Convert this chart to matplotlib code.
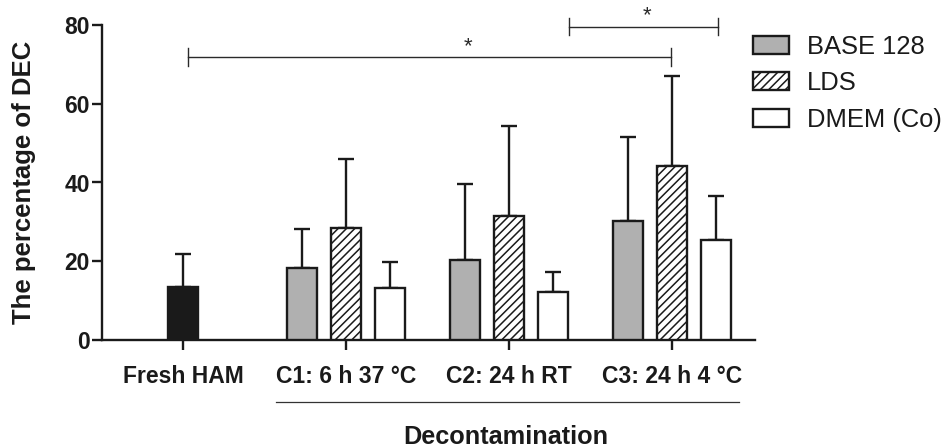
import numpy as np
import matplotlib
matplotlib.use("Agg")
import matplotlib.pyplot as plt
from matplotlib.patches import Patch
import matplotlib.transforms as mtransforms

plt.rcParams['font.family'] = ['Liberation Sans', 'DejaVu Sans']
plt.rcParams['hatch.linewidth'] = 1.1

# ---- data ----
categories = ["Fresh HAM", "C1: 6 h 37 °C", "C2: 24 h RT", "C3: 24 h 4 °C"]
series_names = ["BASE 128", "LDS", "DMEM (Co)"]
fresh_mean = 13.4
fresh_sd = 8.4
base_mean = [18.4, 20.3, 30.3]
base_sd = [9.8, 19.2, 21.3]
lds_mean = [28.5, 31.6, 44.3]
lds_sd = [17.4, 22.7, 22.7]
dmem_mean = [13.3, 12.2, 25.3]
dmem_sd = [6.5, 5.1, 11.3]
y_ticks = [0, 20, 40, 60, 80]
y_label = "The percentage of DEC"
x_group_label = "Decontamination"

# ---- figure ----
fig = plt.figure(figsize=(9.45, 4.48), dpi=100)
ax = fig.add_axes([101.7/945, 108/448, (755-101.7)/945, 315/448])

ink = '#1a1a1a'
lw = 1.7
w = 0.185
off = 0.27
gx = np.arange(1, 4)

ax.bar([0], [fresh_mean], w, color=ink, edgecolor=ink, linewidth=lw, zorder=3)
ax.bar(gx - off, base_mean, w, color='#b0b0b0', edgecolor=ink, linewidth=lw, zorder=3)
ax.bar(gx, lds_mean, w, color='white', edgecolor=ink, linewidth=lw, hatch='////', zorder=3)
ax.bar(gx + off, dmem_mean, w, color='white', edgecolor=ink, linewidth=lw, zorder=3)

ek = dict(fmt='none', ecolor=ink, elinewidth=lw, capsize=6, capthick=lw, zorder=2)
ax.errorbar([0], [fresh_mean], yerr=[[0], [fresh_sd]], **ek)
ax.errorbar(gx - off, base_mean, yerr=[np.zeros(3), base_sd], **ek)
ax.errorbar(gx, lds_mean, yerr=[np.zeros(3), lds_sd], **ek)
ax.errorbar(gx + off, dmem_mean, yerr=[np.zeros(3), dmem_sd], **ek)

ax.set_xlim(-0.5, 3.51)
ax.set_ylim(0, 80)
ax.set_yticks(y_ticks)
ax.set_xticks(np.arange(4))
ax.set_xticklabels(categories, fontsize=16.5, fontweight='bold', color=ink)
ax.set_yticklabels([str(t) for t in y_ticks], fontsize=16.5, fontweight='bold', color=ink)
for s in ['top', 'right']:
    ax.spines[s].set_visible(False)
for s in ['left', 'bottom']:
    ax.spines[s].set_linewidth(lw)
    ax.spines[s].set_color(ink)
ax.tick_params(axis='both', direction='out', length=7, width=lw, color=ink)
ax.tick_params(axis='y', pad=1.5)
ax.tick_params(axis='x', pad=11)

ax.set_ylabel(y_label, fontsize=18.5, fontweight='bold', color=ink)
ax.yaxis.set_label_coords(-0.100, 0.5)

# significance brackets
bc = '#2a2a2a'
def bracket(x0, x1, y, h, sx, sy):
    ax.plot([x0, x1], [y, y], color=bc, lw=1.0, clip_on=False, zorder=4)
    for xx in (x0, x1):
        ax.plot([xx, xx], [y - h, y + h], color=bc, lw=1.0, clip_on=False, zorder=4)
    ax.text(sx, sy, '*', ha='center', va='center', fontsize=16, color=bc, clip_on=False)

bracket(0.03, 2.994, 71.9, 2.2, 1.75, 74.6)
bracket(2.368, 3.282, 79.6, 2.1, 2.85, 82.4)

# group underline and title
trans = mtransforms.blended_transform_factory(ax.transData, ax.transAxes)
ax.plot([0.57, 3.41], [-0.197, -0.197], color='#333333', lw=0.9, transform=trans, clip_on=False)
ax.text(1.98, -0.308, x_group_label, transform=trans, ha='center', va='center',
        fontsize=18.2, fontweight='bold', color=ink)

# legend
handles = [Patch(facecolor='#b0b0b0', edgecolor=ink, linewidth=lw),
           Patch(facecolor='white', edgecolor=ink, linewidth=lw, hatch='////'),
           Patch(facecolor='white', edgecolor=ink, linewidth=lw)]
leg = fig.legend(handles, series_names, loc='upper left', bbox_to_anchor=(753/945, 1 - 35/448),
                 frameon=False, fontsize=18.4, handlelength=1.41, handleheight=0.7,
                 handletextpad=0.7, labelspacing=0.48, borderpad=0, borderaxespad=0)
for t in leg.get_texts():
    t.set_color(ink)

fig.savefig('out.png', dpi=100)
